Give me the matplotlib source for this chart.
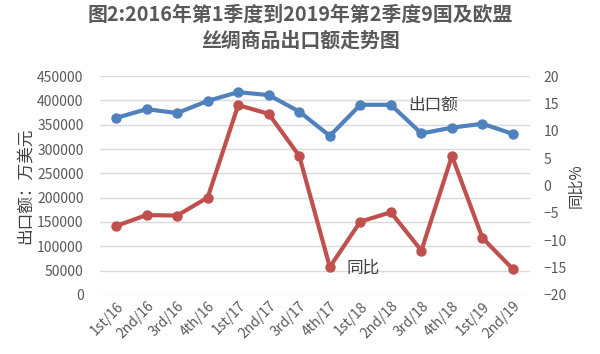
import numpy as np
import matplotlib.pyplot as plt

plt.rcParams['font.family'] = ['Noto Sans CJK SC', 'DejaVu Sans']

quarters = ['1st/16', '2nd/16', '3rd/16', '4th/16', '1st/17', '2nd/17', '3rd/17',
            '4th/17', '1st/18', '2nd/18', '3rd/18', '4th/18', '1st/19', '2nd/19']
# export value, 10k USD (left axis)
export_value = [364000, 382000, 374000, 399000, 417000, 411000, 377000,
                327000, 391000, 391000, 332000, 344000, 352000, 331000]
# year-on-year change, % (right axis)
yoy_pct = [-7.4, -5.4, -5.5, -2.2, 14.7, 13.1, 5.4,
           -14.9, -6.6, -4.9, -11.9, 5.4, -9.6, -15.3]

blue = '#4F81BD'
red = '#C0504D'
grey = '#595959'

fig = plt.figure(figsize=(6, 3.54), dpi=100)
ax1 = fig.add_axes([0.167, 0.167, 0.716, 0.618])
ax2 = ax1.twinx()

x = np.arange(len(quarters))
ax1.plot(x, export_value, '-o', color=blue, lw=3, ms=6.5, zorder=3)
ax2.plot(x, yoy_pct, '-o', color=red, lw=3, ms=6.5, zorder=3)

ax1.set_xlim(-0.52, len(quarters) - 0.45)
ax1.set_ylim(0, 450000)
ax1.set_yticks(np.arange(0, 450001, 50000))
ax2.set_ylim(-20, 20)
ax2.set_yticks(np.arange(-20, 21, 5))

ax1.set_xticks(x)
ax1.set_xticklabels(quarters, rotation=45, ha='right', rotation_mode='anchor')
ax1.grid(axis='y', color='#D9D9D9', lw=1)
ax1.set_axisbelow(True)

for ax in (ax1, ax2):
    for s in ax.spines.values():
        s.set_visible(False)
    ax.tick_params(length=0, labelsize=10, labelcolor=grey)
ax1.tick_params(axis='y', pad=12)
ax1.tick_params(axis='x', pad=3)
ax2.tick_params(axis='y', pad=10)

ax1.set_ylabel('出口额：万美元', fontsize=12, color='#404040', labelpad=2)
ax2.set_ylabel('同比%', fontsize=11, color='#404040', rotation=90, labelpad=0)

ax1.text(10.4, 390000, '出口额', fontsize=12, color='#404040', ha='center', va='center')
ax1.text(8.1, 55000, '同比', fontsize=12, color='#404040', ha='center', va='center')

fig.suptitle('图2:2016年第1季度到2019年第2季度9国及欧盟\n丝绸商品出口额走势图',
             fontsize=14.3, fontweight='bold', color=grey, y=0.99, linespacing=1.3)

fig.savefig('out.png', dpi=100)
